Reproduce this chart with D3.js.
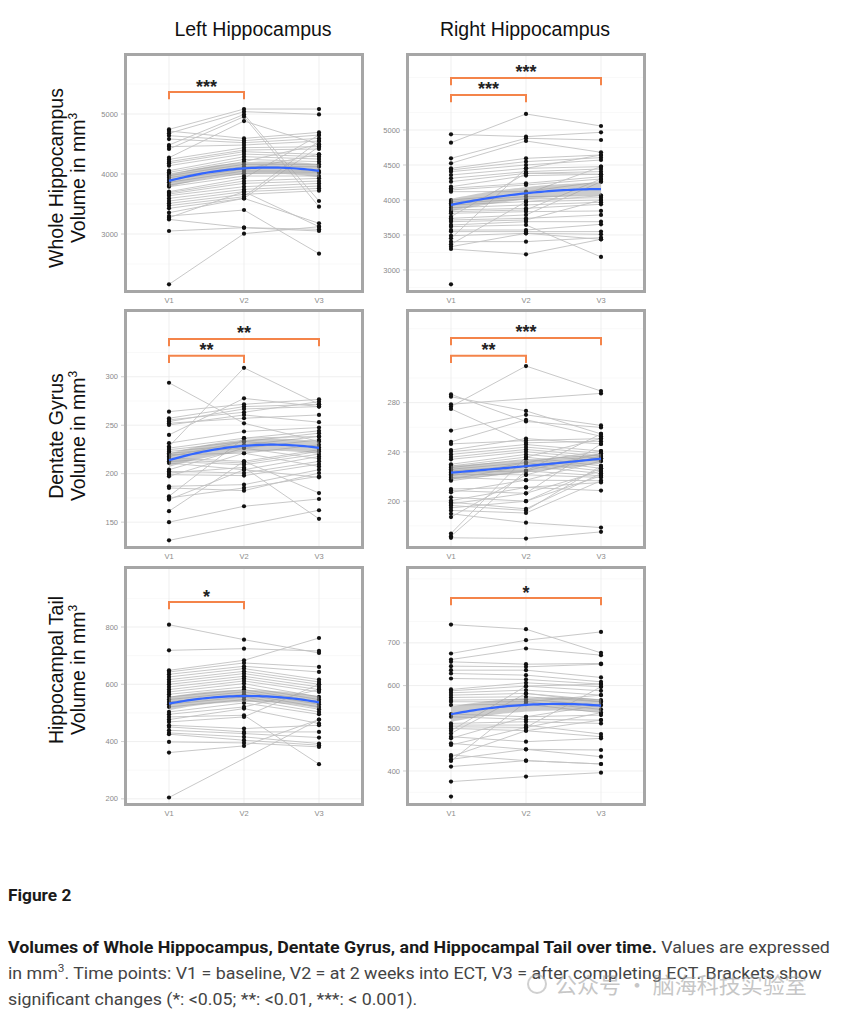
<!DOCTYPE html>
<html>
<head>
<meta charset="utf-8">
<script src="https://cdn.jsdelivr.net/npm/d3@7"></script>
<style>
  html, body { margin: 0; padding: 0; background: #ffffff; }
  svg { display: block; }
</style>
</head>
<body>
<svg id="chart" width="842" height="1014"></svg>
<script>
// ---------------- DATA ----------------
const timePoints = ["V1", "V2", "V3"];
const columnTitles = ["Left Hippocampus", "Right Hippocampus"];
const rowLabels = ["Whole Hippocampus", "Dentate Gyrus", "Hippocampal Tail"];
const unitLabel = "Volume in mm";

// one row per subject: [V1, V2, V3] volumes in mm3 (null = missing visit)
const leftWhole = [
  [4744,5083,5083],[4717,4594,4694],[4678,5039,4994],[4639,4556,4650],[4583,4522,4594],
  [4483,4994,3550],[4456,4483,4550],[4417,4956,3456],[4272,4883,4494],[4244,4439,4456],
  [4206,4400,4417],[4178,4372,4328],[4139,4333,4289],[4056,4289,4250],[4028,4244,4206],
  [4000,4206,4494],[3972,4161,4161],[3939,4122,4122],[3900,4083,4328],[3861,4050,4050],
  [3817,4011,4022],[3789,3967,3967],[3706,3928,4650],[3689,3883,3928],[3667,3844,3883],
  [3639,3789,3844],[3594,3744,3800],[3550,3706,3761],[3511,3661,3722],[3472,3622,4550],
  [3428,3594,3178],[3356,3594,4456],[3300,3400,2672],[3272,3706,3122],[3244,3106,3078],
  [3050,3106,3050],[2161,3006,3122]
];
const rightWhole = [
  [4938,4905,4967],[4819,5229,5057],[4595,4881,4857],[4524,4843,4681],[4452,4595,4643],
  [4429,4548,4605],[4405,4500,4571],[4357,4452,4476],[4310,4405,4443],[4262,4381,4405],
  [4190,4348,4367],[4167,4238,4333],[4143,4214,4300],[4119,4119,4262],[4000,4086,4476],
  [3976,4048,4062],[3952,4014,4033],[3929,3976,4000],[3890,3929,3967],[3857,3881,3938],
  [3833,3857,4300],[3810,3833,3843],[3762,4381,4367],[3738,3786,4262],[3714,3738,3786],
  [3690,3714,4000],[3643,3690,3690],[3619,3643,3186],[3571,3571,3652],[3548,3548,3548],
  [3490,3524,3510],[3452,4452,4643],[3405,3405,3462],[3367,3976,4062],[3333,3524,3438],
  [3300,3224,3438],[2795,null,null]
];
const leftDentate = [
  [293.8,252.0,233.2],[264.0,271.6,276.7],[257.2,269.2,271.6],[255.5,263.4,274.3],[253.8,266.8,269.2],
  [252.0,257.2,260.6],[250.3,260.6,253.1],[240.0,277.7,269.2],[231.5,243.5,247.6],[228.0,309.2,271.6],
  [226.4,236.6,244.2],[224.7,233.2,241.8],[223.0,229.8,238.4],[221.2,226.4,234.9],[219.5,221.2,229.8],
  [217.8,233.2,227.1],[216.1,212.7,224.7],[214.4,211.0,223.0],[212.7,209.2,220.2],[211.0,204.1,217.8],
  [204.1,226.4,215.4],[202.4,200.7,212.7],[200.7,206.5,153.4],[199.0,198.0,209.9],[197.3,221.2,207.5],
  [187.0,188.7,204.1],[185.3,182.5,200.7],[176.7,236.6,238.4],[175.0,185.3,197.3],[173.3,204.1,196.2],
  [161.3,212.7,180.0],[150.0,166.4,173.9],[131.2,null,162.3]
];
const rightDentate = [
  [286.7,264.7,259.9],[284.8,273.3,254.6],[278.7,null,287.5],[276.8,309.7,289.4],[274.9,247.4,248.7],
  [257.3,270.1,261.5],[248.2,266.1,252.7],[246.5,249.2,250.8],[241.5,250.8,246.5],[240.1,246.0,240.7],
  [238.0,243.9,238.8],[235.8,242.0,236.6],[234.0,240.1,234.8],[230.0,238.0,232.6],[228.6,235.8,228.6],
  [227.3,234.0,226.7],[225.9,231.3,224.6],[224.6,228.6,222.5],[223.3,224.6,220.6],[221.9,221.4,219.3],
  [220.6,231.3,240.7],[219.3,217.1,216.6],[217.9,228.6,234.8],[216.6,224.6,238.8],[209.9,211.2,215.2],
  [208.6,206.4,246.5],[207.2,217.1,232.6],[203.2,200.0,226.7],[200.5,211.2,208.6],[199.2,193.8,222.5],
  [197.8,206.4,224.6],[196.5,192.5,228.6],[194.6,200.0,220.6],[192.5,190.4,216.6],[189.8,182.6,178.6],
  [187.1,221.4,236.6],[173.8,235.8,250.8],[171.6,224.6,254.6],[170.3,169.7,175.1]
];
const leftTail = [
  [808.0,755.8,709.3],[718.6,724.4,716.3],[648.8,683.7,761.6],[643.0,674.4,660.5],[634.9,662.8,643.0],
  [625.6,654.7,616.3],[616.3,645.3,608.1],[608.1,637.2,600.0],[600.0,627.9,590.7],[590.7,619.8,581.4],
  [581.4,611.6,573.3],[573.3,602.3,555.8],[565.1,590.7,546.5],[555.8,581.4,538.4],[546.5,573.3,530.2],
  [538.4,565.1,520.9],[530.2,555.8,512.8],[520.9,546.5,503.5],[503.5,534.9,495.3],[495.3,520.9,581.4],
  [486.0,491.9,320.9],[476.7,515.1,462.8],[468.6,486.0,600.0],[457.0,445.3,457.0],[451.2,433.7,433.7],
  [439.5,427.9,414.0],[430.2,416.3,393.0],[425.6,404.7,387.2],[398.8,395.3,381.4],[361.6,384.9,476.7],
  [204.7,null,476.7]
];
const rightTail = [
  [742.9,732.0,676.6],[675.1,706.2,725.7],[661.0,686.8,671.2],[655.6,650.1,651.7],[645.5,643.9,650.1],
  [636.1,636.1,619.0],[628.3,624.4,608.8],[616.6,614.3,603.4],[590.9,606.5,597.1],[587.8,598.7,587.8],
  [583.1,589.4,577.7],[577.7,581.6,566.0],[572.2,573.8,562.1],[566.0,567.5,554.3],[562.1,562.1,544.2],
  [554.3,556.6,536.4],[533.3,527.0,530.9],[527.0,520.8,519.2],[511.4,515.3,511.4],[507.5,507.5,486.5],
  [503.6,502.0,597.1],[499.7,494.3,480.3],[494.3,598.7,603.4],[488.0,581.6,562.1],[480.3,468.6,476.4],
  [476.4,527.0,554.3],[464.7,450.7,449.1],[460.8,502.0,536.4],[437.4,424.2,416.4],[433.5,494.3,519.2],
  [427.3,450.7,433.5],[423.4,562.1,577.7],[410.3,424.2,416.4],[375.1,386.8,396.1],[340.0,null,null]
];

// y-axis tick labels per panel
const ticksLeftWhole = [3000, 4000, 5000];
const ticksRightWhole = [3000, 3500, 4000, 4500, 5000];
const ticksLeftDentate = [150, 200, 250, 300];
const ticksRightDentate = [200, 240, 280];
const ticksLeftTail = [200, 400, 600, 800];
const ticksRightTail = [400, 500, 600, 700];

// significance brackets: [from, to, height (mm3), label]
const bracketsLeftWhole = [["V1", "V2", 5367, "***"]];
const bracketsRightWhole = [["V1", "V3", 5743, "***"], ["V1", "V2", 5500, "***"]];
const bracketsLeftDentate = [["V1", "V3", 339, "**"], ["V1", "V2", 321.6, "**"]];
const bracketsRightDentate = [["V1", "V3", 332.5, "***"], ["V1", "V2", 318, "**"]];
const bracketsLeftTail = [["V1", "V2", 887, "*"]];
const bracketsRightTail = [["V1", "V3", 805, "*"]];

// ---------------- LAYOUT ----------------
const svg = d3.select("#chart");
const FONT = "'Liberation Sans', Arial, Helvetica, sans-serif";
const colX = [124, 406];
const rowY = [53, 309, 566];
const PW = 240, PH = 240;

const panels = [
  { data: leftWhole,    ticks: ticksLeftWhole,    brackets: bracketsLeftWhole,    domain: [2017, 6017], c: 0, r: 0 },
  { data: rightWhole,   ticks: ticksRightWhole,   brackets: bracketsRightWhole,   domain: [2671, 6100], c: 1, r: 0 },
  { data: leftDentate,  ticks: ticksLeftDentate,  brackets: bracketsLeftDentate,  domain: [122.3, 369.9], c: 0, r: 1 },
  { data: rightDentate, ticks: ticksRightDentate, brackets: bracketsRightDentate, domain: [161.2, 356], c: 1, r: 1 },
  { data: leftTail,     ticks: ticksLeftTail,     brackets: bracketsLeftTail,     domain: [175, 1013], c: 0, r: 2 },
  { data: rightTail,    ticks: ticksRightTail,    brackets: bracketsRightTail,    domain: [318, 880], c: 1, r: 2 }
];

panels.forEach(p => {
  const x0 = colX[p.c], y0 = rowY[p.r];
  const x = d3.scalePoint().domain(timePoints).range([x0, x0 + PW]).padding(0.6);
  const y = d3.scaleLinear().domain(p.domain).range([y0 + PH, y0]);
  const g = svg.append("g");

  const clipId = "clip" + p.c + p.r;
  svg.append("clipPath").attr("id", clipId)
    .append("rect").attr("x", x0).attr("y", y0).attr("width", PW).attr("height", PH);

  g.append("rect").attr("x", x0).attr("y", y0).attr("width", PW).attr("height", PH).attr("fill", "#ffffff");

  // grid
  const t = p.ticks, stepT = t[1] - t[0];
  const minor = [];
  for (let v = t[0] - stepT / 2; v <= p.domain[1]; v += stepT) if (v >= p.domain[0]) minor.push(v);
  g.selectAll(".minor").data(minor).join("line")
    .attr("x1", x0).attr("x2", x0 + PW).attr("y1", d => y(d)).attr("y2", d => y(d))
    .attr("stroke", "#f2f2f2").attr("stroke-width", 0.5);
  g.selectAll(".major").data(t).join("line")
    .attr("x1", x0).attr("x2", x0 + PW).attr("y1", d => y(d)).attr("y2", d => y(d))
    .attr("stroke", "#ebebeb").attr("stroke-width", 0.8);
  g.selectAll(".vgrid").data(timePoints).join("line")
    .attr("x1", d => x(d)).attr("x2", d => x(d)).attr("y1", y0).attr("y2", y0 + PH)
    .attr("stroke", "#ebebeb").attr("stroke-width", 0.8);

  const inner = g.append("g").attr("clip-path", `url(#${clipId})`);

  // subject lines
  const line = d3.line().x(d => x(d[0])).y(d => y(d[1]));
  p.data.forEach(s => {
    const pts = s.map((v, i) => [timePoints[i], v]).filter(d => d[1] != null);
    if (pts.length > 1) {
      inner.append("path").attr("d", line(pts)).attr("fill", "none")
        .attr("stroke", "#c2c2c2").attr("stroke-width", 0.9);
    }
  });

  // points
  p.data.forEach(s => {
    s.forEach((v, i) => {
      if (v == null) return;
      inner.append("circle").attr("cx", x(timePoints[i])).attr("cy", y(v)).attr("r", 2.1).attr("fill", "#111111");
    });
  });

  // smooth: mean at each visit, quadratic through means, ribbon ±1.96 SE
  const stats = timePoints.map((tp, i) => {
    const vals = p.data.map(s => s[i]).filter(v => v != null);
    return { m: d3.mean(vals), sd: d3.deviation(vals), n: vals.length };
  });
  const nTot = d3.sum(stats, s => s.n);
  const se = stats.map(s => 1.96 * s.sd / Math.sqrt(nTot));
  const quad = (a, b, c, u) => b + (c - a) / 2 * (u - 2) + (a - 2 * b + c) / 2 * (u - 2) * (u - 2);
  const us = d3.range(1, 3.0001, 0.05);
  const xOf = u => x("V1") + (u - 1) * (x("V2") - x("V1"));
  const smooth = us.map(u => ({
    px: xOf(u),
    m: quad(stats[0].m, stats[1].m, stats[2].m, u),
    e: quad(se[0], se[1], se[2], u)
  }));
  inner.append("path")
    .attr("d", d3.area().x(d => d.px).y0(d => y(d.m - d.e)).y1(d => y(d.m + d.e))(smooth))
    .attr("fill", "#999999").attr("fill-opacity", 0.5);
  inner.append("path")
    .attr("d", d3.line().x(d => d.px).y(d => y(d.m))(smooth))
    .attr("fill", "none").attr("stroke", "#3366FF").attr("stroke-width", 2.2);

  // brackets
  const tip = 0.03 * (p.domain[1] - p.domain[0]);
  p.brackets.forEach(b => {
    const xa = x(b[0]), xb = x(b[1]), yb = y(b[2]), yt = y(b[2] - tip);
    g.append("path").attr("d", `M${xa},${yt}L${xa},${yb}L${xb},${yb}L${xb},${yt}`)
      .attr("fill", "none").attr("stroke", "#F4844A").attr("stroke-width", 2);
    g.append("text").attr("x", (xa + xb) / 2).attr("y", yb + 0.5)
      .attr("text-anchor", "middle").attr("font-family", FONT).attr("font-size", 18)
      .attr("font-weight", "bold").attr("fill", "#222").text(b[3]);
  });

  // frame
  g.append("rect").attr("x", x0 + 1.5).attr("y", y0 + 1.5).attr("width", PW - 3).attr("height", PH - 3)
    .attr("fill", "none").attr("stroke", "#a6a6a6").attr("stroke-width", 3);

  // y ticks and labels
  g.selectAll(".ytick").data(t).join("line")
    .attr("x1", x0 - 3).attr("x2", x0).attr("y1", d => y(d)).attr("y2", d => y(d))
    .attr("stroke", "#b0b0b0").attr("stroke-width", 0.6);
  g.selectAll(".ylab").data(t).join("text")
    .attr("x", x0 - 6).attr("y", d => y(d)).attr("dy", "0.35em")
    .attr("text-anchor", "end").attr("font-family", FONT).attr("font-size", 7.5)
    .attr("fill", "#8a8a8a").text(d => d);

  // x labels
  g.selectAll(".xlab").data(timePoints).join("text")
    .attr("x", d => x(d)).attr("y", y0 + PH + 10)
    .attr("text-anchor", "middle").attr("font-family", FONT).attr("font-size", 7.5)
    .attr("fill", "#8a8a8a").text(d => d);
});

// column titles
const titleX = [253, 525];
columnTitles.forEach((tt, i) => {
  svg.append("text").attr("x", titleX[i]).attr("y", 36).attr("text-anchor", "middle")
    .attr("font-family", FONT).attr("font-size", 19.5).attr("fill", "#111").text(tt);
});

// row labels (two lines, rotated)
const rowCenters = [178, 436, 670];
rowLabels.forEach((lab, i) => {
  svg.append("text").attr("transform", `translate(63,${rowCenters[i]}) rotate(-90)`)
    .attr("text-anchor", "middle").attr("font-family", FONT).attr("font-size", 19.5)
    .attr("fill", "#111").text(lab);
  const t2 = svg.append("text").attr("transform", `translate(85,${rowCenters[i]}) rotate(-90)`)
    .attr("text-anchor", "middle").attr("font-family", FONT).attr("font-size", 19.5).attr("fill", "#111");
  t2.append("tspan").text(unitLabel);
  t2.append("tspan").attr("font-size", 12).attr("dy", -8).text("3");
});

// caption
const CAP = "Roboto, 'Liberation Sans', Arial, sans-serif";
const cap = svg.append("g");
cap.append("text").attr("x", 8).attr("y", 901).attr("font-family", CAP).attr("font-size", 17.3)
  .attr("font-weight", "bold").attr("fill", "#1a1a1a").text("Figure 2");
const body = cap.append("g").attr("transform", "translate(8,0) scale(1.03,1) translate(-8,0)");
const l1 = body.append("text").attr("x", 8).attr("y", 953).attr("font-family", CAP).attr("font-size", 17.3);
l1.append("tspan").attr("font-weight", "bold").attr("fill", "#1a1a1a")
  .text("Volumes of Whole Hippocampus, Dentate Gyrus, and Hippocampal Tail over time.");
l1.append("tspan").attr("fill", "#444").text(" Values are expressed");
const l2 = body.append("text").attr("x", 8).attr("y", 979).attr("font-family", CAP).attr("font-size", 17.3).attr("fill", "#444");
l2.append("tspan").text("in mm");
l2.append("tspan").attr("font-size", 11.5).attr("dy", -7).text("3");
l2.append("tspan").attr("dy", 7).text(". Time points: V1 = baseline, V2 = at 2 weeks into ECT, V3 = after completing ECT. Brackets show");
body.append("text").attr("x", 8).attr("y", 1005).attr("font-family", CAP).attr("font-size", 17.3).attr("fill", "#444")
  .text("significant changes (*: <0.05; **: <0.01, ***: < 0.001).");

// watermark
const wm = svg.append("g").attr("opacity", 0.55);
wm.append("circle").attr("cx", 537).attr("cy", 984).attr("r", 9).attr("fill", "none").attr("stroke", "#aaa").attr("stroke-width", 2);
wm.append("text").attr("x", 555).attr("y", 993).attr("font-family", "'Noto Sans CJK SC', sans-serif")
  .attr("font-size", 22).attr("fill", "#999").text("公众号 · 脑海科技实验室");
</script>
</body>
</html>
